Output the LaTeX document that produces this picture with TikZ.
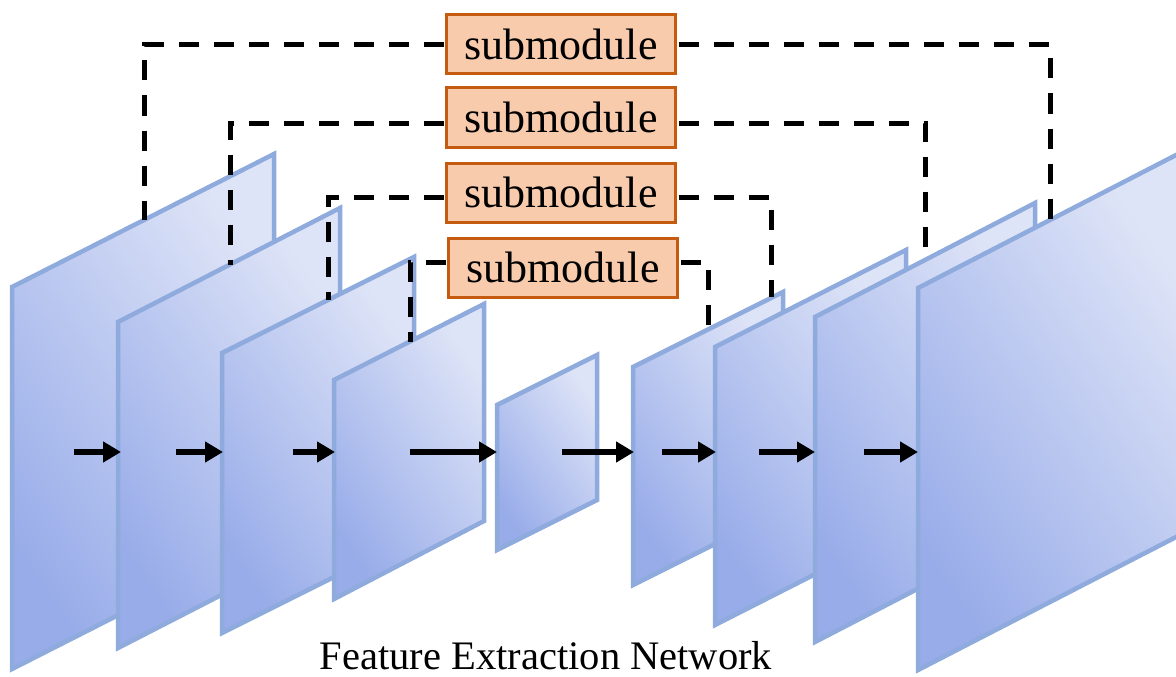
\documentclass[tikz,border=0pt]{standalone}
\usepackage{fontspec}
\setmainfont{Liberation Serif}
\usetikzlibrary{arrows.meta}
\definecolor{planeDark}{RGB}{152,172,233}
\definecolor{planeLight}{RGB}{222,228,247}
\definecolor{planeEdge}{RGB}{143,170,220}
\definecolor{subFill}{RGB}{248,203,173}
\definecolor{subEdge}{RGB}{197,90,17}
\begin{document}
\begin{tikzpicture}[x=1pt,y=-1pt,
  plane/.style={draw=planeEdge, line width=4.5pt, line join=miter,
    top color=planeLight, bottom color=planeDark, shading angle=-55},
  subbox/.style={draw=subEdge, fill=subFill, line width=3pt,
    minimum width=229pt, minimum height=59pt, inner sep=0pt,
    font=\fontsize{44}{48}\selectfont},
  flow/.style={line width=6.5pt, -{Triangle[length=18pt,width=20pt]}},
  skip/.style={line width=5pt, dash pattern=on 20pt off 15pt, shorten <=1.5pt}
]
\clip (0,0) rectangle (1176,677);
\useasboundingbox (0,0) rectangle (1176,677);

% feature planes (back to front)
\shadedraw[plane] (12,287) -- (274,154) -- (274,536) -- (12,669) -- cycle;
\shadedraw[plane] (118,322) -- (340,208) -- (340,534) -- (118,648) -- cycle;
\shadedraw[plane] (222,353) -- (414,257) -- (414,537) -- (222,633) -- cycle;
\shadedraw[plane] (334,380) -- (484,304) -- (484,521) -- (334,599) -- cycle;
\shadedraw[plane] (497,405) -- (597,355) -- (597,500) -- (497,550) -- cycle;
\shadedraw[plane] (633,367) -- (783,292) -- (783,510) -- (633,585) -- cycle;
\shadedraw[plane] (715,347) -- (906,250) -- (906,528) -- (715,625) -- cycle;
\shadedraw[plane] (815,317) -- (1035,203) -- (1035,528) -- (815,642) -- cycle;
\shadedraw[plane] (918,288) -- (1180,153) -- (1180,535) -- (918,670) -- cycle;

% flow arrows
\coordinate (a1s) at (74,452);  \coordinate (a1e) at (121,452);
\coordinate (a2s) at (176,452); \coordinate (a2e) at (223,452);
\coordinate (a3s) at (293,452); \coordinate (a3e) at (335,452);
\coordinate (a4s) at (410,452); \coordinate (a4e) at (497,452);
\coordinate (a5s) at (562,452); \coordinate (a5e) at (634,452);
\coordinate (a6s) at (662,452); \coordinate (a6e) at (716,452);
\coordinate (a7s) at (759,452); \coordinate (a7e) at (815,452);
\coordinate (a8s) at (864,452); \coordinate (a8e) at (918,452);
\foreach \i in {1,...,8} {\draw[flow] (a\i s) -- (a\i e);}

% submodules
\node[subbox] (sm1) at (561,44) {submodule};
\node[subbox] (sm2) at (561,117.5) {submodule};
\node[subbox] (sm3) at (561,192.5) {submodule};
\node[subbox] (sm4) at (563,267.5) {submodule};

% skip connections
\coordinate (l1) at (144,220);  \coordinate (r1) at (1050,220);
\coordinate (l2) at (230,265);  \coordinate (r2) at (925,259);
\coordinate (l3) at (328,300);  \coordinate (r3) at (771,297);
\coordinate (l4) at (410,342);  \coordinate (r4) at (708,329);
\draw[skip] ([yshift=-1pt]sm1.west) -| (l1);
\draw[skip] ([yshift=-1pt]sm1.east) -| (r1);
\draw[skip] ([yshift=-5.5pt]sm2.west) -| (l2);
\draw[skip] ([yshift=-5.5pt]sm2.east) -| (r2);
\draw[skip] ([yshift=-4.5pt]sm3.west) -| (l3);
\draw[skip] ([yshift=-4.5pt]sm3.east) -| (r3);
\draw[skip] ([yshift=5.5pt]sm4.west) -| (l4);
\draw[skip] ([yshift=5.5pt]sm4.east) -| (r4);

\node[font=\fontsize{40.5}{44}\selectfont, anchor=base, inner sep=0pt] (title) at (546,669) {Feature Extraction Network};
\end{tikzpicture}
\end{document}
